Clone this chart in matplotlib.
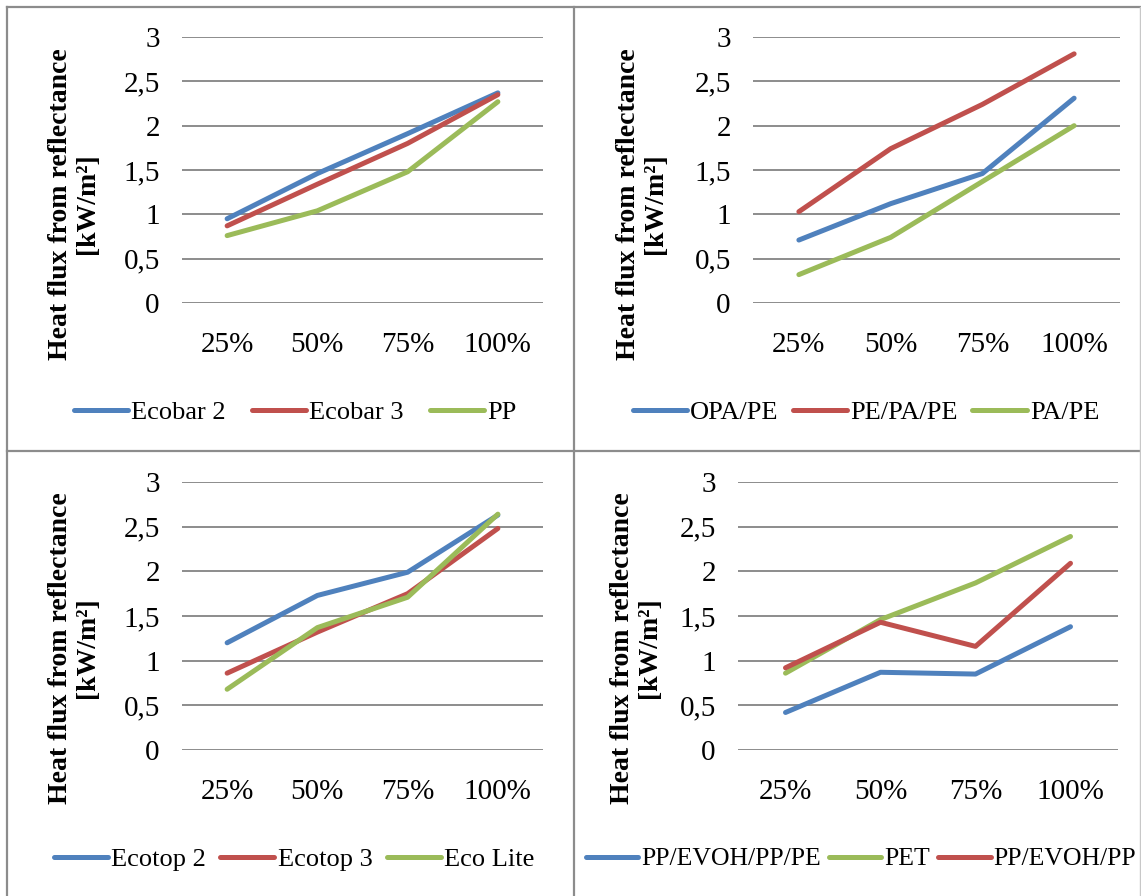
import matplotlib
matplotlib.use("Agg")
import matplotlib.pyplot as plt
from matplotlib.lines import Line2D

plt.rcParams["font.family"] = ["Liberation Serif", "DejaVu Serif"]

W, H = 1141, 896

categories = ["25%", "50%", "75%", "100%"]
y_ticks = [0, 0.5, 1, 1.5, 2, 2.5, 3]
y_tick_labels = ["0", "0,5", "1", "1,5", "2", "2,5", "3"]

ecobar_2 = [0.95, 1.46, 1.91, 2.37]
ecobar_3 = [0.87, 1.34, 1.80, 2.35]
pp = [0.76, 1.04, 1.48, 2.27]

opa_pe = [0.71, 1.12, 1.46, 2.31]
pe_pa_pe = [1.03, 1.74, 2.24, 2.81]
pa_pe = [0.32, 0.74, 1.37, 2.00]

ecotop_2 = [1.20, 1.73, 1.99, 2.63]
ecotop_3 = [0.86, 1.32, 1.75, 2.48]
eco_lite = [0.68, 1.37, 1.71, 2.64]

pp_evoh_pp_pe = [0.42, 0.87, 0.85, 1.38]
pet = [0.86, 1.46, 1.87, 2.39]
pp_evoh_pp = [0.92, 1.43, 1.16, 2.09]

BLUE = "#4F81BD"
RED = "#C0504D"
GREEN = "#9BBB59"

# each panel: axes box (left, top, right, bottom in px), ylabel centre,
# legend centre, legend column gap, legend font size, series
panels = [
    dict(box=(182, 37, 543, 303), ylab=(74, 204), leg=(295, 412), gap=1.0, fs=19,
         series=[("Ecobar 2", ecobar_2, BLUE), ("Ecobar 3", ecobar_3, RED), ("PP", pp, GREEN)]),
    dict(box=(753, 37, 1120, 303), ylab=(642, 204), leg=(866, 412), gap=0.55, fs=19,
         series=[("OPA/PE", opa_pe, BLUE), ("PE/PA/PE", pe_pa_pe, RED), ("PA/PE", pa_pe, GREEN)]),
    dict(box=(182, 482, 543, 750), ylab=(74, 648), leg=(294, 859), gap=0.55, fs=19,
         series=[("Ecotop 2", ecotop_2, BLUE), ("Ecotop 3", ecotop_3, RED), ("Eco Lite", eco_lite, GREEN)]),
    dict(box=(738, 482, 1118, 750), ylab=(636, 648), leg=(861, 859), gap=0.3, fs=18.5,
         series=[("PP/EVOH/PP/PE", pp_evoh_pp_pe, BLUE), ("PET", pet, GREEN), ("PP/EVOH/PP", pp_evoh_pp, RED)]),
]

fig = plt.figure(figsize=(W / 100, H / 100), dpi=100)

for p in panels:
    l, t, r, b = p["box"]
    ax = fig.add_axes([l / W, 1 - b / H, (r - l) / W, (b - t) / H])
    x = range(len(categories))
    handles = []
    for name, vals, col in p["series"]:
        h, = ax.plot(x, vals, color=col, lw=3.6, solid_capstyle="round",
                     solid_joinstyle="round", label=name, zorder=3)
        handles.append(h)
    ax.set_xlim(-0.5, len(categories) - 0.5)
    ax.set_ylim(0, 3)
    ax.set_xticks(list(x))
    ax.set_xticklabels(categories)
    ax.set_yticks(y_ticks)
    ax.set_yticklabels(y_tick_labels)
    ax.grid(axis="y", color="#8c8c8c", lw=1.4, zorder=0)
    for s in ax.spines.values():
        s.set_visible(False)
    ax.tick_params(axis="both", length=0, labelsize=21)
    ax.tick_params(axis="y", pad=16)
    ax.tick_params(axis="x", pad=21)
    ax.set_axisbelow(True)

    fig.text(p["ylab"][0] / W, 1 - p["ylab"][1] / H,
             "Heat flux from reflectance\n[kW/m²]", rotation=90,
             ha="center", va="center", multialignment="center",
             fontsize=20, fontweight="bold", linespacing=1.1)

    fig.legend(handles=handles, loc="center",
               bbox_to_anchor=(p["leg"][0] / W, 1 - p["leg"][1] / H),
               ncol=3, frameon=False, fontsize=p["fs"], handlelength=2.05,
               handletextpad=0.12, columnspacing=p["gap"], borderaxespad=0)

# panel frame lines
frame = "#8c8c8c"
for xs, ys in [((7, 1141), (7, 7)), ((7, 7), (7, 896)), ((574, 574), (7, 896)),
               ((7, 1141), (451, 451))]:
    fig.add_artist(Line2D([v / W for v in xs], [1 - v / H for v in ys],
                          color=frame, lw=1.6))
fig.add_artist(Line2D([1140 / W, 1140 / W], [1 - 7 / H, 0], color="#c8c8c8", lw=1))

fig.savefig("out.png", dpi=100)
